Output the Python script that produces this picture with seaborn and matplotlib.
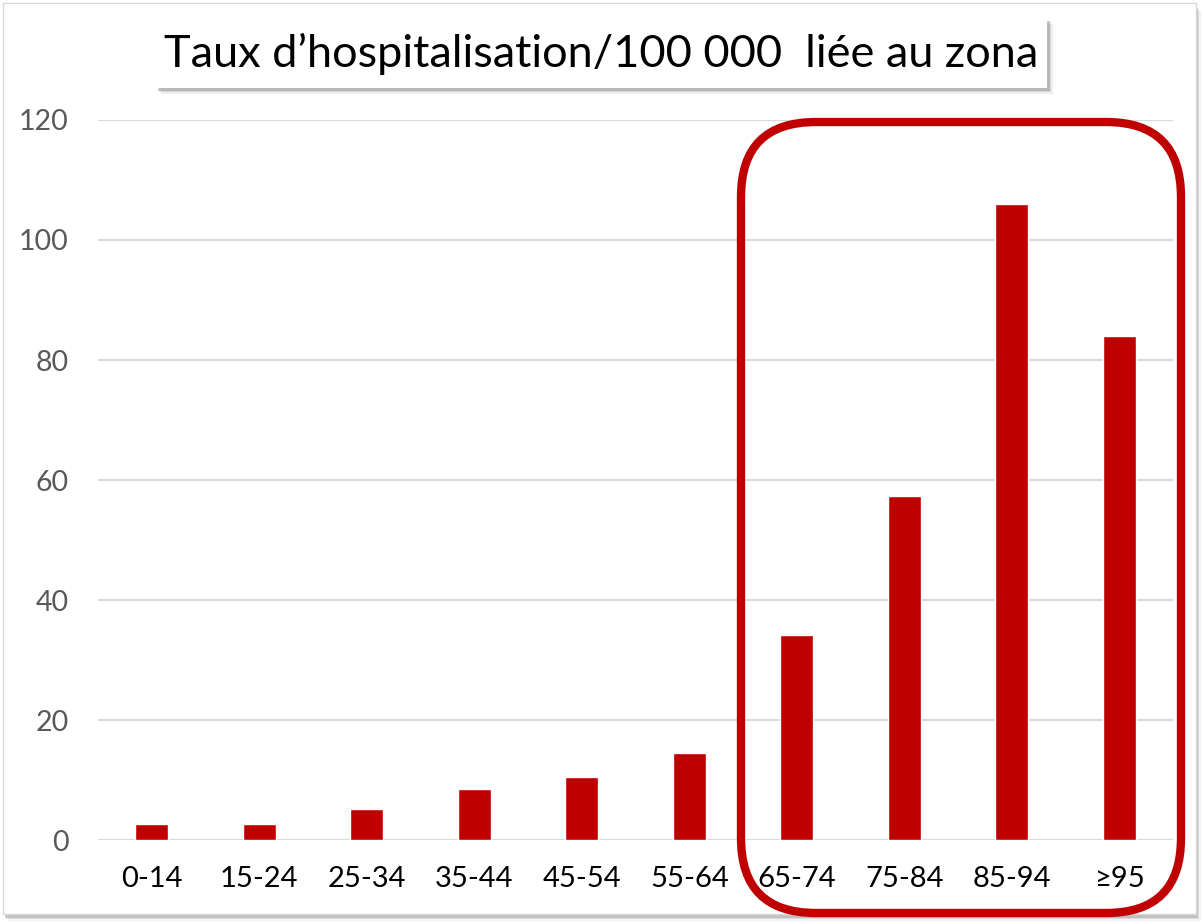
import matplotlib.pyplot as plt
import seaborn as sns
import pandas as pd
from matplotlib.patches import FancyBboxPatch, Rectangle

# data
age_groups = ["0-14", "15-24", "25-34", "35-44", "45-54", "55-64", "65-74", "75-84", "85-94", "≥95"]
rates = [2.6, 2.6, 5.2, 8.5, 10.5, 14.5, 34.2, 57.3, 106, 84]
yticks = [0, 20, 40, 60, 80, 100, 120]
title = "Taux d\u2019hospitalisation/100 000  liée au zona"

df = pd.DataFrame({"age": age_groups, "rate": rates})

sns.set_theme(style="white")
plt.rcParams['font.family'] = ['Lato', 'DejaVu Sans']

W, H = 1204, 922
fig = plt.figure(figsize=(W / 100, H / 100), dpi=100)
inch = fig.dpi_scale_trans

# figure frame with a soft shadow on right / bottom
for k, a in enumerate([0.10, 0.18, 0.30]):
    off = (3 - k) * 0.015
    fig.patches.append(Rectangle((0.03 + off, 0.06 - off), 11.93, 9.10, transform=inch,
                                 facecolor="#808080", edgecolor="none", alpha=a, zorder=-2))
fig.patches.append(Rectangle((0.03, 0.08), 11.93, 9.11, transform=inch,
                             facecolor="white", edgecolor="#d9d9d9", linewidth=1, zorder=-1))

ax = fig.add_axes([98 / W, 1 - 840 / H, (1173 - 98) / W, 720 / H])
ax.set_zorder(2)
ax.set_facecolor("none")
sns.barplot(data=df, x="age", y="rate", color="#C00000", saturation=1, width=0.31, ax=ax, zorder=3)

ax.set_ylim(0, 120)
ax.set_xlim(-0.5, 9.5)
ax.set_yticks(yticks)
ax.yaxis.grid(True, color="#d9d9d9", linewidth=1.5, zorder=0)
ax.set_axisbelow(True)
ax.xaxis.grid(False)
for s in ax.spines.values():
    s.set_visible(False)
ax.tick_params(axis="y", labelsize=20.5, labelcolor="#595959", length=0, pad=21)
ax.tick_params(axis="x", labelsize=21, labelcolor="black", length=0, pad=19)
ax.set_xlabel("")
ax.set_ylabel("")

# title box with shadow
for k, a in enumerate([0.12, 0.2, 0.35]):
    off = (3 - k) * 0.012
    fig.patches.append(Rectangle((1.57 + off, 8.32 - off), 8.92, 0.70, transform=inch,
                                 facecolor="#7f7f7f", edgecolor="none", alpha=a, zorder=4))
fig.patches.append(Rectangle((1.55, 8.34), 8.92, 0.70, transform=inch,
                             facecolor="white", edgecolor="none", zorder=5))
fig.text(6.01, 8.68, title, transform=inch, ha="center", va="center", fontsize=32.5,
         color="black", zorder=6)

# rounded highlight frame around the older age groups
fig.patches.append(FancyBboxPatch((7.41, 0.09), 4.40, 7.91, transform=inch,
                                  boxstyle="round,pad=0,rounding_size=0.75",
                                  facecolor="none", edgecolor="#C00000", linewidth=6, zorder=7))

fig.savefig("out.png", dpi=100)
